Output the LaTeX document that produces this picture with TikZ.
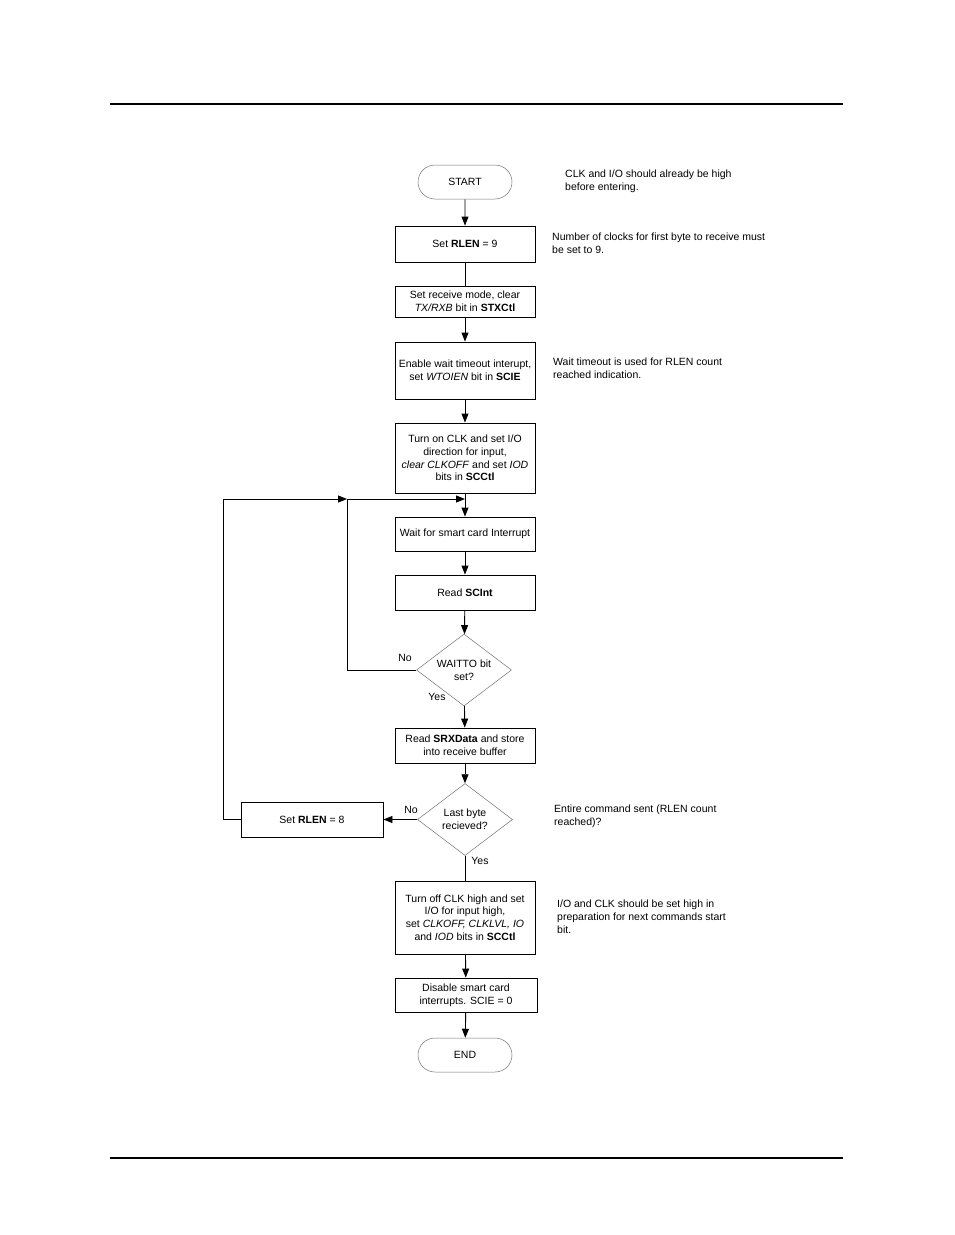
\documentclass[tikz,border=0pt]{standalone}
\usepackage{fontspec}
\setmainfont{Liberation Sans}
\usetikzlibrary{arrows.meta,positioning,shapes.geometric,shapes.misc}
\tikzset{
  term/.style={rounded rectangle,draw=black!55,line width=0.5pt,minimum width=94pt,
               minimum height=34pt,inner sep=0pt},
  stepbox/.style={rectangle,draw=black,line width=0.9pt,minimum width=140pt,
                  inner sep=1pt,align=center},
  decide/.style={diamond,draw=black!55,line width=0.5pt,aspect=1.3,
                 minimum width=95pt,minimum height=72pt,inner sep=0pt,align=center},
  note/.style={anchor=north west,align=left,inner sep=0pt},
  flow/.style={-{Triangle[length=9pt,width=7pt]},line width=0.9pt},
  plain/.style={line width=0.9pt},
  rule/.style={line width=1.4pt},
}
\begin{document}
\begin{tikzpicture}[x=1pt,y=-1pt,font=\fontsize{10.5}{12.6}\selectfont]
  \useasboundingbox (0,0) rectangle (954,1235);
  % page rules
  \coordinate (tl) at (110,104);
  \coordinate (tr) at (843,104);
  \coordinate (bl) at (110,1158);
  \coordinate (br) at (843,1158);
  \draw[rule] (tl) -- (tr);
  \draw[rule] (bl) -- (br);

  % main column
  \node[term] (start) at (465,182) {START};
  \node[stepbox,minimum height=36pt] (rlen9) at (465,244) {Set \textbf{RLEN} = 9};
  \node[stepbox,minimum height=31pt] (rxmode) at (465,301.5)
    {Set receive mode, clear\\\textit{TX/RXB} bit in \textbf{STXCtl}};
  \node[stepbox,minimum height=57pt] (wtoien) at (465,370.5)
    {Enable wait timeout interupt,\\set \textit{WTOIEN} bit in \textbf{SCIE}};
  \node[stepbox,minimum height=70pt] (clkon) at (465,458)
    {Turn on CLK and set I/O\\direction for input,\\\textit{clear CLKOFF} and set \textit{IOD}\\bits in \textbf{SCCtl}};
  \coordinate (join) at (465,499);
  \node[stepbox,minimum height=34pt] (wait) at (465,534) {Wait for smart card Interrupt};
  \node[stepbox,minimum height=35pt] (rdint) at (465,592.5) {Read \textbf{SCInt}};
  \node[decide] (waitto) at (464,670) {WAITTO bit\\set?};
  \node[stepbox,minimum height=35pt] (rddata) at (465,745.5)
    {Read \textbf{SRXData} and store\\into receive buffer};
  \node[decide] (last) at (465,819.5) {Last byte\\recieved?};
  \node[stepbox,minimum height=73pt] (clkoff) at (465,917.5)
    {Turn off CLK high and set\\I/O for input high,\\set \textit{CLKOFF, CLKLVL, IO}\\and \textit{IOD} bits in \textbf{SCCtl}};
  \node[stepbox,minimum height=34pt,minimum width=142pt] (noint) at (466,995)
    {Disable smart card\\interrupts. SCIE = 0};
  \node[term] (end) at (465,1055) {END};

  % side box
  \node[stepbox,minimum height=35pt,minimum width=142pt] (rlen8) at (312,819.5)
    {Set \textbf{RLEN} = 8};
  \coordinate (inner) at (347,499);

  % connectors
  \draw[flow] (start) -- (rlen9);
  \draw[plain] (rlen9) -- (rxmode);
  \draw[flow] (rxmode) -- (wtoien);
  \draw[flow] (wtoien) -- (clkon);
  \draw[flow] (clkon) -- (wait);
  \draw[flow] (wait) -- (rdint);
  \draw[flow] (rdint) -- (waitto);
  \draw[flow] (waitto) -- (rddata);
  \draw[flow] (rddata) -- (last);
  \draw[flow] (last) -- (rlen8);
  \draw[plain] (last) -- (clkoff);
  \draw[flow] (clkoff) -- (noint);
  \draw[flow] (noint) -- (end);
  \draw[flow] (waitto.west) -| (inner) -- (join);
  \draw[flow] (rlen8.west) -- ++(-17,0) |- (inner);

  % branch labels
  \node at (405,658) {No};
  \node at (437,697) {Yes};
  \node at (411,810) {No};
  \node at (480,861) {Yes};

  % notes
  \node[note] (n1) at (565,170) {CLK and I/O should already be high\\before entering.};
  \node[note] (n2) at (552,233) {Number of clocks for first byte to receive must\\be set to 9.};
  \node[note] (n3) at (553,358) {Wait timeout is used for RLEN count\\reached indication.};
  \node[note] (n4) at (554,805) {Entire command sent (RLEN count\\reached)?};
  \node[note] (n5) at (557,900) {I/O and CLK should be set high in\\preparation for next commands start\\bit.};
\end{tikzpicture}
\end{document}
